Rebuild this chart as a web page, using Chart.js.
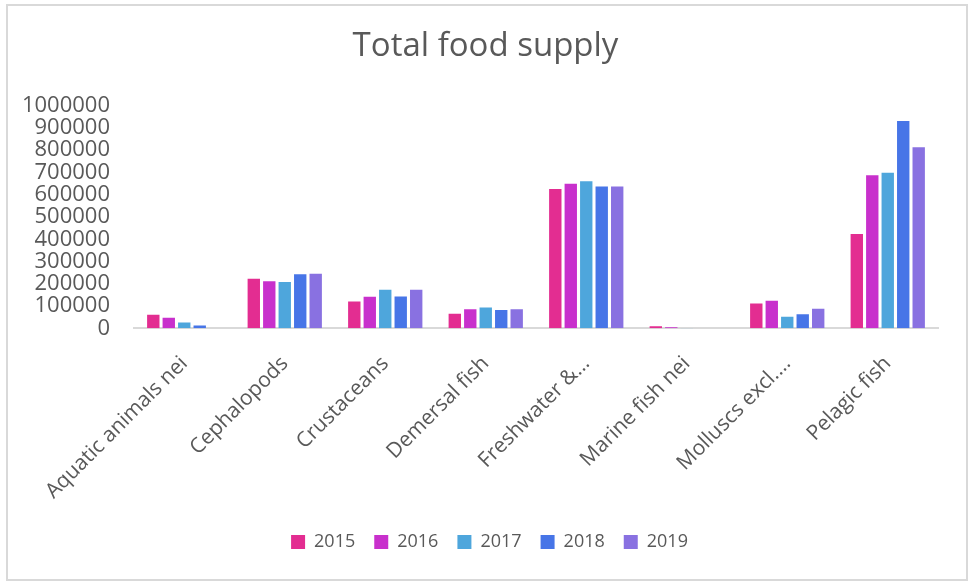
<!DOCTYPE html>
<html>
<head>
<meta charset="utf-8">
<script src="https://cdn.jsdelivr.net/npm/chart.js@4/dist/chart.umd.min.js"></script>
<style>
  body { margin: 0; background: #fff; }
  #frame {
    position: absolute; left: 6px; top: 4px;
    width: 958px; height: 573px;
    border: 2px solid #d9d9d9;
  }
  #ch { display: block; }
</style>
</head>
<body>
<div id="frame"><canvas id="ch" width="958" height="573"></canvas></div>
<script>
const categories = ['Aquatic animals nei', 'Cephalopods', 'Crustaceans', 'Demersal fish',
  'Freshwater &…', 'Marine fish nei', 'Molluscs excl.…', 'Pelagic fish'];
const years = ['2015', '2016', '2017', '2018', '2019'];
const colors = ['#E32D91', '#C830CC', '#4EA6DC', '#4775E7', '#8971E1'];

const v2015 = [61000, 223000, 121000, 66000, 626000, 10000, 112000, 424000];
const v2016 = [48000, 211000, 142000, 86000, 649000, 5000, 124000, 687000];
const v2017 = [26000, 208000, 173000, 94000, 660000, 1500, 52000, 698000];
const v2018 = [13000, 243000, 143000, 82000, 637000, 0, 63000, 931000];
const v2019 = [0, 245000, 173000, 86000, 637000, 0, 88000, 813000];
const series = [v2015, v2016, v2017, v2018, v2019];

const yTicks = [0, 100000, 200000, 300000, 400000, 500000, 600000, 700000, 800000, 900000, 1000000];

const grey = '#595959';
const fam = '"Open Sans", sans-serif';

// nudge title and legend a little to the right of the padded area
const boxShift = {
  id: 'boxShift',
  afterLayout(chart) {
    chart.legend.left += 9;
    chart.legend.right += 9;
    chart.titleBlock.left += 5;
    chart.titleBlock.right += 5;
  }
};

new Chart('ch', {
  type: 'bar',
  data: {
    labels: categories,
    datasets: series.map((d, i) => ({
      label: years[i],
      data: d,
      backgroundColor: colors[i],
      categoryPercentage: 0.77,
      barPercentage: 0.8
    }))
  },
  options: {
    responsive: false,
    devicePixelRatio: 1,
    animation: false,
    layout: { padding: { left: 15, right: 28, top: 0, bottom: 18 } },
    plugins: {
      title: {
        display: true,
        text: 'Total food supply',
        color: grey,
        font: { family: fam, size: 33, weight: 'normal' },
        padding: { top: 21, bottom: 39 }
      },
      legend: {
        position: 'bottom',
        labels: {
          color: grey,
          font: { family: fam, size: 18 },
          boxWidth: 14,
          boxHeight: 14,
          padding: 19
        }
      },
      tooltip: { enabled: false }
    },
    scales: {
      x: {
        grid: { display: false },
        border: { display: true, color: '#d9d9d9', width: 2 },
        afterFit: (axis) => {
          // the slanted first label has room on the left already
          axis.paddingLeft = 0;
          axis.paddingRight = 0;
          axis.height -= 5;
        },
        ticks: {
          color: grey,
          font: { family: fam, size: 21 },
          minRotation: 45,
          maxRotation: 45,
          autoSkip: false,
          padding: 15
        }
      },
      y: {
        min: 0,
        max: 1000000,
        grid: { display: false, drawTicks: false },
        border: { display: false },
        afterBuildTicks: (axis) => { axis.ticks = yTicks.map(v => ({ value: v })); },
        afterFit: (axis) => { axis.width = 111; },
        ticks: {
          color: grey,
          font: { family: fam, size: 22 },
          autoSkip: false,
          padding: 24,
          callback: (v) => String(v)
        }
      }
    }
  },
  plugins: [boxShift]
});
</script>
</body>
</html>
